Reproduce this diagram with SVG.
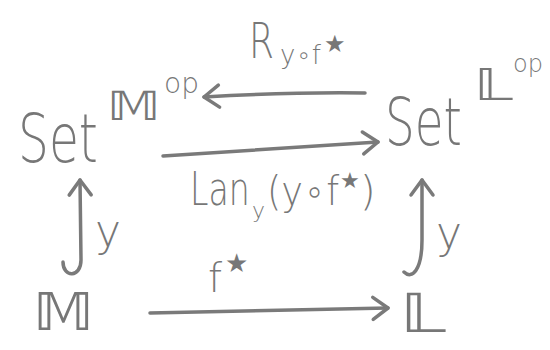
<svg xmlns="http://www.w3.org/2000/svg" width="550" height="350" viewBox="0 0 550 350">
<defs>
<marker id="head" markerUnits="userSpaceOnUse" markerWidth="40" markerHeight="40" viewBox="-20 -20 40 40" refX="0" refY="0" orient="auto">
<path d="M-15,-11 L0,0 L-15,11" fill="none" stroke="#7a7a7a" stroke-width="3.5" stroke-linecap="round" stroke-linejoin="round"/>
</marker>
</defs>
<style>
text{font-family:"DejaVu Sans","Liberation Sans",sans-serif;fill:#777;font-weight:200;}
.arr{fill:none;stroke:#7a7a7a;stroke-width:3.5;stroke-linecap:round;marker-end:url(#head);}
</style>
<rect width="550" height="350" fill="#fff"/>
<g id="node-set-M">
<text transform="translate(18,162) scale(0.716,1)" font-size="68">Set</text>
<text transform="translate(107,120) scale(1.3,1)" font-size="40">𝕄</text>
<text x="164" y="93" font-size="28">op</text>
</g>
<g id="node-set-L">
<text transform="translate(385,145) scale(0.71,1)" font-size="66">Set</text>
<text transform="translate(474,100) scale(1.35,1)" font-size="44">𝕃</text>
<text x="513" y="72" font-size="24">op</text>
</g>
<g id="node-M">
<text transform="translate(33,330) scale(1.14,1)" font-size="52">𝕄</text>
</g>
<g id="node-L">
<text transform="translate(400,332) scale(1.3,1)" font-size="54">𝕃</text>
</g>
<g id="connectors">
<path class="arr" d="M365,93 Q290,92 204,97"/>
<path class="arr" d="M163,156 L378,142"/>
<path class="arr" d="M150,313 L388,308"/>
<path class="arr" d="M63,262 C63,278 81,278 81,260 L80,180"/>
<path class="arr" d="M404,272 C412,280 422,270 422,240 L422,180"/>
<text transform="translate(249,58) scale(0.72,1)" font-size="50">R</text>
<text x="280" y="64" font-size="26">y∘f</text>
<text x="324" y="52" font-size="24">★</text>
<text transform="translate(190,205) scale(0.72,1)" font-size="46">Lan</text>
<text x="252" y="218" font-size="22">y</text>
<text transform="translate(267,205) scale(0.92,1)" font-size="40">(y∘f</text>
<text x="340" y="188" font-size="22">★</text>
<text x="360" y="205" font-size="40">)</text>
<text x="208" y="292" font-size="40">f</text>
<text x="225" y="272" font-size="26">★</text>
<text x="95" y="246" font-size="44">y</text>
<text x="436" y="248" font-size="44">y</text>
</g>
</svg>
